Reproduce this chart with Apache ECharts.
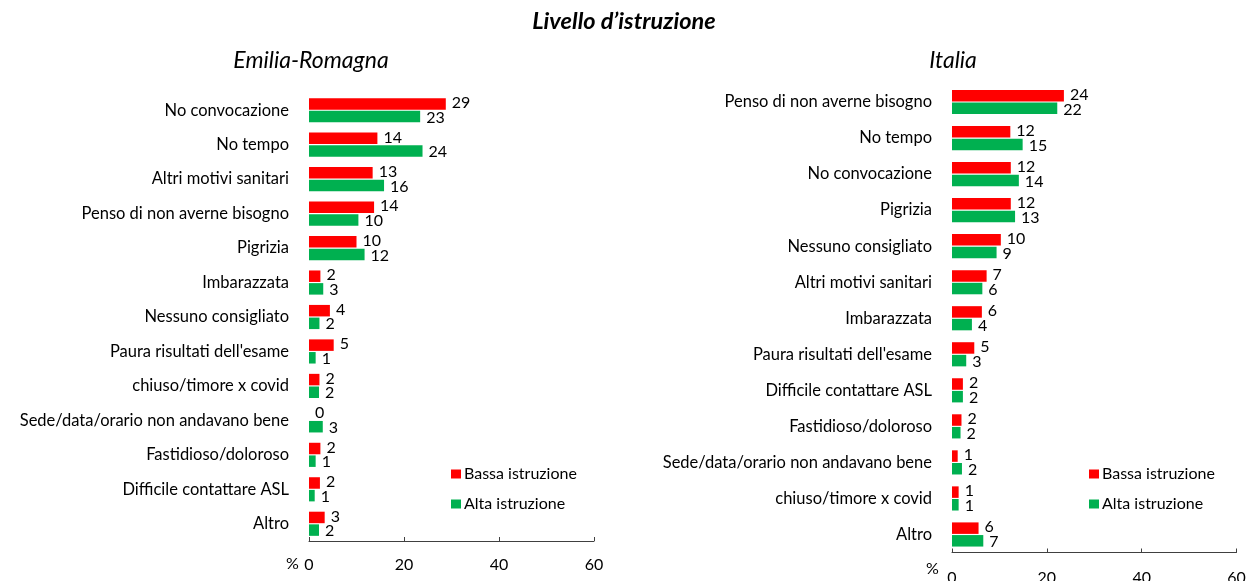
<!DOCTYPE html>
<html>
<head>
<meta charset="utf-8">
<script src="https://cdn.jsdelivr.net/npm/echarts@6/dist/echarts.min.js"></script>
<style>
html,body{margin:0;padding:0;background:#fff;}
#c{width:1248px;height:581px;}
</style>
</head>
<body>
<div id="c"></div>
<script>
const catsER = ["No convocazione","No tempo","Altri motivi sanitari","Penso di non averne bisogno","Pigrizia","Imbarazzata","Nessuno consigliato","Paura risultati dell'esame","chiuso/timore x covid","Sede/data/orario non andavano bene","Fastidioso/doloroso","Difficile contattare ASL","Altro"];
const bassaER = [28.8, 14.4, 13.4, 13.7, 10.0, 2.4, 4.4, 5.2, 2.2, 0, 2.4, 2.3, 3.3];
const altaER  = [23.4, 23.9, 15.8, 10.4, 11.7, 3.0, 2.2, 1.4, 2.1, 2.9, 1.4, 1.2, 2.1];

const catsIT = ["Penso di non averne bisogno","No tempo","No convocazione","Pigrizia","Nessuno consigliato","Altri motivi sanitari","Imbarazzata","Paura risultati dell'esame","Difficile contattare ASL","Fastidioso/doloroso","Sede/data/orario non andavano bene","chiuso/timore x covid","Altro"];
const bassaIT = [23.6, 12.3, 12.4, 12.4, 10.3, 7.3, 6.3, 4.7, 2.3, 2.0, 1.2, 1.4, 5.6];
const altaIT  = [22.2, 14.9, 14.1, 13.3, 9.4, 6.4, 4.2, 3.0, 2.3, 1.8, 2.1, 1.4, 6.6];

const xTicks = [0, 20, 40, 60];
const seriesNames = ["Bassa istruzione", "Alta istruzione"];
const colors = ["#FF0000", "#00B050"];

const FONT = "Lato";
const chart = echarts.init(document.getElementById('c'));

function xAxisCfg(gi, margin){
  return {
    type:'value', gridIndex:gi, min:xTicks[0], max:xTicks[xTicks.length-1], interval:20,
    splitLine:{show:false},
    axisLine:{show:true, lineStyle:{color:'#404040', width:1}},
    axisTick:{show:true, inside:true, length:4, lineStyle:{color:'#404040'}},
    axisLabel:{color:'#000', fontFamily:FONT, fontSize:16, margin:margin}
  };
}
function yAxisCfg(gi, cats){
  return {
    type:'category', gridIndex:gi, data:cats, inverse:true,
    axisLine:{show:false}, axisTick:{show:false},
    axisLabel:{color:'#000', fontFamily:FONT, fontSize:16.5, margin:20}
  };
}
function barSeries(name, data, idx, color, off){
  return {
    name:name, type:'bar', xAxisIndex:idx, yAxisIndex:idx, data:data,
    barWidth:11.5, barGap:'10%',
    itemStyle:{color:color},
    label:{show:true, position:'right', distance:6, offset:[0,off], color:'#000',
      fontFamily:FONT, fontSize:16, formatter:p=>String(Math.round(p.value))},
    animation:false
  };
}
const legendCfg = (left)=>({
  data:seriesNames, orient:'vertical', left:left, top:466, padding:0,
  itemWidth:10, itemHeight:9, itemGap:14, icon:'rect',
  textStyle:{fontFamily:FONT, fontSize:16, color:'#000', padding:[0,0,0,-2]}
});

chart.setOption({
  animation:false,
  title:[
    {text:"Livello d\u2019istruzione", left:'center', top:10, padding:0,
      textStyle:{fontFamily:FONT, fontSize:23.5, fontWeight:'bold', fontStyle:'italic', color:'#000'}},
    {text:"Emilia-Romagna", left:311, top:49, textAlign:'center', padding:0,
      textStyle:{fontFamily:FONT, fontSize:23, fontWeight:'normal', fontStyle:'italic', color:'#000'}},
    {text:"Italia", left:953, top:49, textAlign:'center', padding:0,
      textStyle:{fontFamily:FONT, fontSize:23, fontWeight:'normal', fontStyle:'italic', color:'#000'}}
  ],
  legend:[legendCfg(451), legendCfg(1089)],
  grid:[
    {left:309, width:285, top:93, height:448, containLabel:false, outerBoundsMode:'none'},
    {left:952, width:284.5, top:84, height:468.5, containLabel:false, outerBoundsMode:'none'}
  ],
  xAxis:[xAxisCfg(0,16), xAxisCfg(1,17)],
  yAxis:[yAxisCfg(0,catsER), yAxisCfg(1,catsIT)],
  graphic:[
    {type:'text', left:286, top:556, style:{text:'%', font:'16px Lato', fill:'#000'}},
    {type:'text', left:926, top:561, style:{text:'%', font:'16px Lato', fill:'#000'}}
  ],
  series:[
    barSeries(seriesNames[0], bassaER, 0, colors[0], -1),
    barSeries(seriesNames[1], altaER, 0, colors[1], 1),
    barSeries(seriesNames[0], bassaIT, 1, colors[0], -1),
    barSeries(seriesNames[1], altaIT, 1, colors[1], 1)
  ]
});
</script>
</body>
</html>
